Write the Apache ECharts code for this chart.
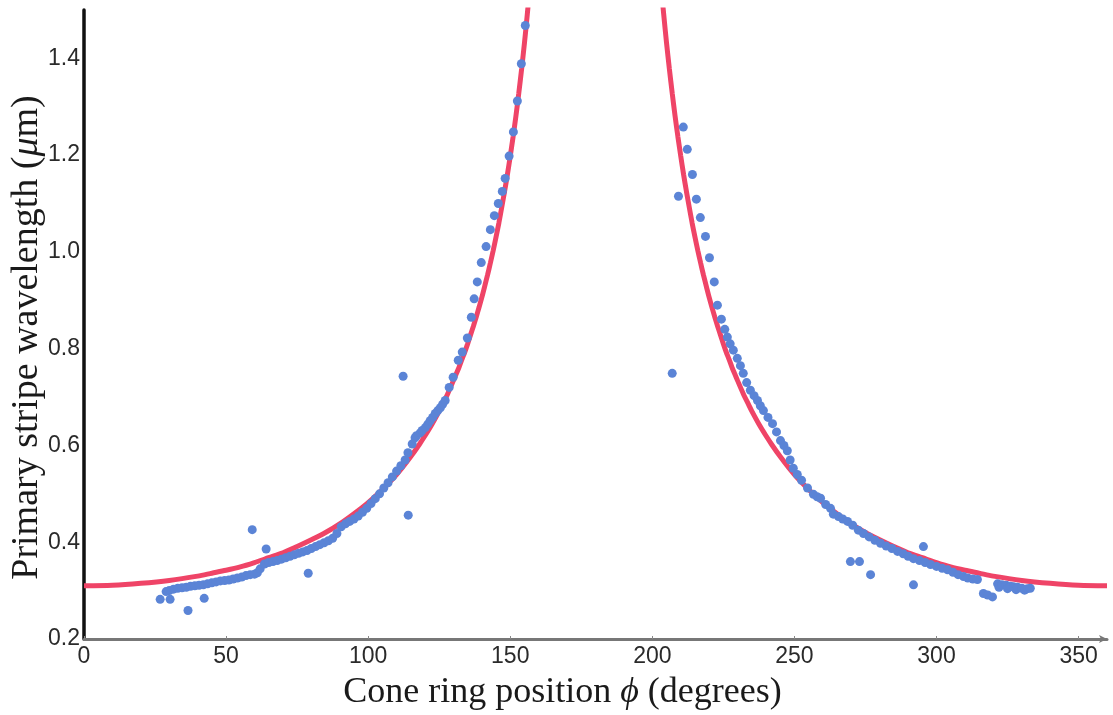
<!DOCTYPE html>
<html>
<head>
<meta charset="utf-8">
<script src="https://cdn.jsdelivr.net/npm/echarts@6/dist/echarts.min.js"></script>
<style>
html,body{margin:0;padding:0;background:#fff;}
#chart{width:1113px;height:715px;}
</style>
</head>
<body>
<div id="chart"></div>
<script>
// ---- data ----
const xTickLabels = ['0', '50', '100', '150', '200', '250', '300', '350'];
const yTickLabels = ['0.2', '0.4', '0.6', '0.8', '1.0', '1.2', '1.4'];

// fitted curve, left branch (phi in degrees, wavelength in micrometres)
const leftCurvePhi = [0,10,20,30,40,45,50,55,60,65,70,75,80,85,90,95,100,105,108,110,112,115,118,120,122,125,126,128,130,131,132,133,134,135,136,137,138,139,140,141,142,143,144,145,146,147,148,149,150,151,152,153,154,155,156,157,158];
const leftCurveWave = [0.310,0.311,0.315,0.321,0.330,0.336,0.342,0.349,0.358,0.368,0.378,0.391,0.405,0.420,0.438,0.459,0.482,0.509,0.527,0.540,0.554,0.577,0.602,0.620,0.639,0.671,0.683,0.707,0.734,0.748,0.762,0.778,0.793,0.810,0.828,0.846,0.865,0.885,0.906,0.929,0.952,0.977,1.003,1.031,1.060,1.092,1.125,1.160,1.198,1.238,1.281,1.328,1.378,1.432,1.491,1.555,1.625];

// fitted curve, right branch
const rightCurvePhi = [202,203,204,205,206,207,208,209,210,211,212,213,214,215,216,217,218,219,220,221,222,223,224,225,226,227,228,229,230,232,234,235,238,240,242,245,248,250,252,255,260,265,270,275,280,285,290,295,300,305,310,315,320,330,340,350,360];
const rightCurveWave = [1.625,1.555,1.491,1.432,1.378,1.328,1.281,1.238,1.198,1.160,1.125,1.092,1.060,1.031,1.003,0.977,0.952,0.929,0.906,0.885,0.865,0.846,0.828,0.810,0.793,0.778,0.762,0.748,0.734,0.707,0.683,0.671,0.639,0.620,0.602,0.577,0.554,0.540,0.527,0.509,0.482,0.459,0.438,0.420,0.405,0.391,0.378,0.368,0.358,0.349,0.342,0.336,0.330,0.321,0.315,0.311,0.310];

// measured points, left side [phi, wavelength]
const leftPoints = [
 [30,0.300],[31.5,0.303],[33,0.305],[34.5,0.306],[36,0.307],[37.5,0.309],[39,0.310],[40.5,0.311],[42,0.312],[43.5,0.314],
 [45,0.316],[46.5,0.318],[48,0.320],[49.5,0.321],[51,0.322],[52.5,0.324],[54,0.326],[55.5,0.328],[57,0.331],[58.5,0.333],
 [60,0.334],[61,0.337],[62,0.345],[63.5,0.355],[65,0.358],[66.5,0.360],[68,0.362],[69.5,0.365],[71,0.368],[72.5,0.371],
 [74,0.374],[75.5,0.377],[77,0.380],[78.5,0.383],[80,0.387],[81.5,0.391],[83,0.395],[84.5,0.399],[86,0.403],[87.5,0.408],
 [89,0.418],[90.5,0.432],[92,0.438],[93.5,0.443],[95,0.448],[96.5,0.454],[98,0.462],[99.5,0.470],[101,0.480],[102.5,0.490],
 [104,0.500],[105.5,0.512],[107,0.523],[108.5,0.535],[110,0.547],[111.5,0.558],[113,0.570],[114,0.585],[115.5,0.603],[116.5,0.616],
 [117,0.620],[118.3,0.626],[119,0.631],[120.1,0.637],[121,0.644],[121.8,0.651],[122.7,0.658],[123.6,0.666],[124.5,0.672],[125.4,0.678],
 [126.2,0.685],[127.1,0.693],[128.5,0.720],[129.9,0.741],[131.7,0.776],[133.1,0.793],[134.9,0.822],[136.3,0.865],[137.3,0.903],[138.4,0.938],
 [139.8,0.978],[141.5,1.011],[143.0,1.046],[144.4,1.075],[145.8,1.100],[147.2,1.125],[148.2,1.152],[149.6,1.198],[151.1,1.248],[152.5,1.312],
 [153.9,1.389],[155.3,1.468]
];
const leftOutliers = [[26.8,0.282],[28.9,0.298],[30.3,0.282],[36.6,0.259],[42.3,0.284],[59.2,0.426],[64.1,0.386],[78.9,0.336],[112.3,0.743],[114.1,0.456]];

// measured points, right side [phi, wavelength]
const rightPoints = [
 [210.9,1.258],[212.3,1.212],[214.1,1.160],[215.5,1.109],[216.9,1.071],[218.7,1.032],[220.1,0.988],[221.8,0.938],[222.9,0.890],[224.3,0.861],
 [225.5,0.840],[226.4,0.824],[227.4,0.810],[228.5,0.797],[229.9,0.780],[231,0.765],[232.0,0.749],[233.2,0.730],[234.5,0.714],[235.8,0.703],
 [237.0,0.693],[238,0.682],[239.1,0.672],[240.7,0.658],[242.3,0.645],[243.7,0.628],[245.1,0.610],[246.3,0.600],[247.5,0.589],[248.5,0.570],
 [249.6,0.553],[251,0.540],[252.5,0.528],[254.6,0.512],[256.7,0.499],[258,0.494],[259.2,0.491],[261,0.478],[262.7,0.470],[263.7,0.458],
 [265.5,0.453],[267,0.448],[268.7,0.443],[270.5,0.435],[272.5,0.425],[274.3,0.418],[276.3,0.411],[278.3,0.404],[280.3,0.398],[282.3,0.392],
 [284.3,0.387],[286.3,0.381],[288.3,0.376],[290,0.371],[291.9,0.366],[294,0.362],[296,0.358],[297.9,0.354],[300,0.350],[302,0.346],
 [303.9,0.343],[305.8,0.338],[307.6,0.333],[309.5,0.329],[311,0.326],[312.8,0.324],[314.4,0.323],[321.5,0.314],[322,0.307],[323,0.312],
 [324.5,0.311],[325,0.304],[326,0.309],[327.1,0.308],[328,0.302],[328.5,0.307],[330,0.305],[331,0.301],[332,0.304],[333,0.305]
];
const rightOutliers = [[207.0,0.749],[209.2,1.115],[269.7,0.360],[272.9,0.360],[276.8,0.333],[291.9,0.312],[295.4,0.391],[316.5,0.294],[318,0.291],[319.7,0.287]];

// ---- build chart ----
const curveData = leftCurvePhi.map((p, i) => [p, leftCurveWave[i]])
  .concat([[180, null]])
  .concat(rightCurvePhi.map((p, i) => [p, rightCurveWave[i]]));
const pointData = leftPoints.concat(leftOutliers, rightPoints, rightOutliers);

const serif = '"Liberation Serif", "DejaVu Serif", serif';
const sans = '"Liberation Sans", Arial, sans-serif';

const chart = echarts.init(document.getElementById('chart'), null, {renderer: 'canvas'});
chart.setOption({
  animation: false,
  backgroundColor: '#ffffff',
  grid: {left: 84, right: 6, top: 10, bottom: 76, containLabel: false, outerBoundsMode: 'none'},
  xAxis: {
    type: 'value', min: 0, max: 360, interval: 50,
    axisLine: {show: true, onZero: false, lineStyle: {color: '#777777', width: 3}, symbol: ['none', 'arrow'], symbolSize: [6, 8]},
    axisTick: {show: true, inside: true, length: 3, lineStyle: {color: '#888888', width: 1}},
    splitLine: {show: false},
    axisLabel: {
      margin: 6, color: '#2a2a2a', fontFamily: sans, fontSize: 23, showMaxLabel: false,
      formatter: (v) => xTickLabels[Math.round(v / 50)] || ''
    },
    name: 'Cone ring position {i|ϕ} (degrees)',
    nameLocation: 'middle', nameGap: 36, nameMoveOverlap: false,
    nameTextStyle: {
      fontFamily: serif, fontSize: 36, color: '#1a1a1a', padding: [0, 66, 0, 0],
      rich: {i: {fontFamily: serif, fontSize: 36, fontStyle: 'italic', color: '#1a1a1a'}}
    }
  },
  yAxis: {
    type: 'value', min: 0.2, max: 1.5, interval: 0.2,
    axisLine: {show: true, onZero: false, lineStyle: {color: '#111111', width: 3.5}},
    axisTick: {show: false},
    splitLine: {show: false},
    axisLabel: {
      margin: 4, color: '#2a2a2a', fontFamily: sans, fontSize: 23, showMaxLabel: false,
      formatter: (v) => yTickLabels[Math.round((v - 0.2) / 0.2)] || ''
    },
    name: 'Primary stripe wavelength ({i|μ}m)',
    nameLocation: 'middle', nameGap: 38, nameMoveOverlap: false,
    nameTextStyle: {
      fontFamily: serif, fontSize: 38, color: '#1a1a1a', padding: [0, 26, 0, 0],
      rich: {i: {fontFamily: serif, fontSize: 38, fontStyle: 'italic', color: '#1a1a1a'}}
    }
  },
  series: [
    {
      type: 'line', data: curveData, showSymbol: false, smooth: 0.3, connectNulls: false,
      clip: true, z: 2,
      lineStyle: {color: '#ef4467', width: 5}
    },
    {
      type: 'scatter', data: pointData, symbol: 'circle', symbolSize: 9, clip: true, z: 3,
      itemStyle: {color: '#5b84d6', opacity: 1}
    }
  ]
});
</script>
</body>
</html>
